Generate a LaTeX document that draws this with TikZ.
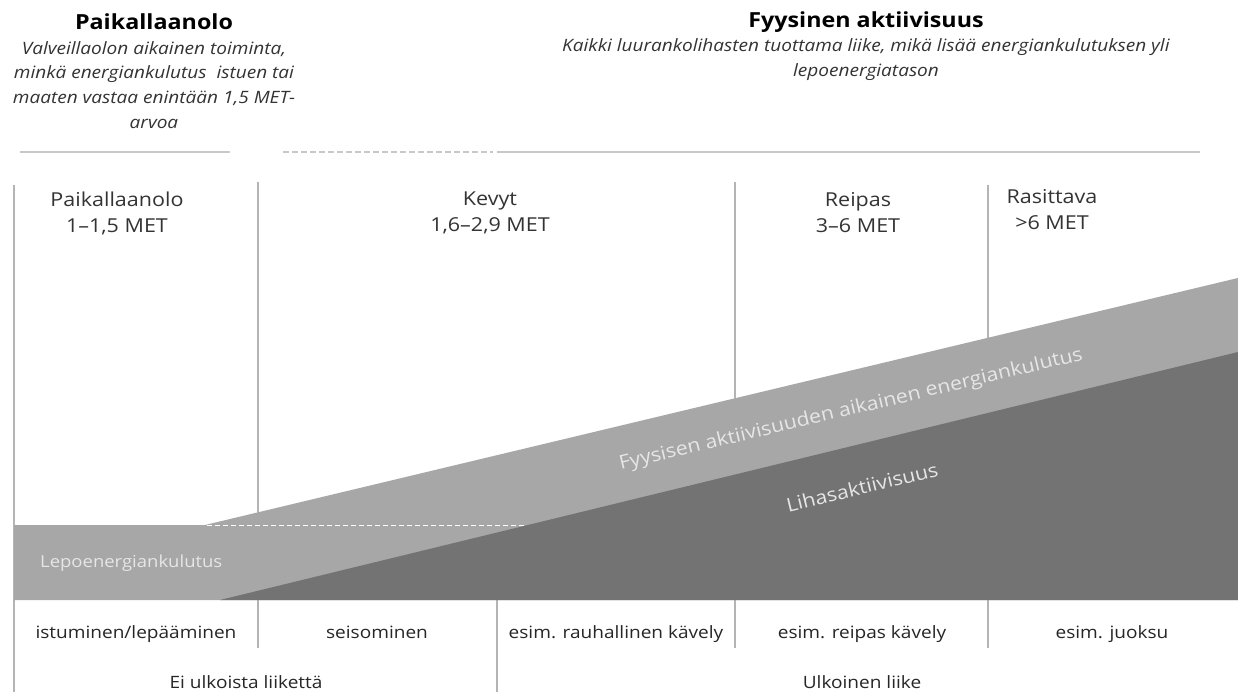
\documentclass[tikz,border=0pt]{standalone}
\usepackage{fontspec}
\setmainfont{Open Sans}[FakeStretch=1.12]
\definecolor{lightband}{HTML}{A7A7A7}
\definecolor{darkband}{HTML}{737373}
\definecolor{ruleg}{HTML}{C8C8C8}
\definecolor{divg}{HTML}{B4B4B4}
\definecolor{txtg}{HTML}{333333}
\definecolor{inband}{HTML}{E6E6E6}
\tikzset{
  head/.style={font=\fontsize{20.8}{24}\selectfont\bfseries, text=black, inner sep=0pt},
  subtxt/.style={font=\fontsize{17}{24.8}\selectfont\itshape, text=txtg, align=center, inner sep=0pt},
  colhead/.style={font=\fontsize{19.2}{26}\selectfont, text=txtg, align=center, inner sep=0pt, anchor=north},
  bottxt/.style={font=\fontsize{17}{20}\selectfont, text=black!85, inner sep=0pt, anchor=base},
  bandtxt/.style={font=\fontsize{#1}{20}\selectfont, text=inband, inner sep=0pt},
  toprule/.style={draw=ruleg, line width=2.5pt},
  divline/.style={draw=divg, line width=1.3pt},
}
\begin{document}
\begin{tikzpicture}[x=1pt,y=-1pt]
\path[use as bounding box, fill=white] (0,0) rectangle (1238,692);
% top rules
\draw[toprule] (20,152) -- (230,152);
\draw[draw=ruleg, line width=1.5pt, dash pattern=on 6pt off 3pt] (283,152) -- (493,152);
\draw[toprule] (497,152) -- (1200,152);
% headings
\node[head] (h1) at (154,22) {Paikallaanolo};
\node[subtxt] (s1) at (154,85) {Valveillaolon aikainen toiminta,\\minkä energiankulutus \ istuen tai\\maaten vastaa enintään 1,5 MET-\\arvoa};
\node[head] (h2) at (866,22) {Fyysinen aktiivisuus};
\node[subtxt] (s2) at (866,59.5) {Kaikki luurankolihasten tuottama liike, mikä lisää energiankulutuksen yli\\lepoenergiatason};
% vertical dividers
\draw[divline] (14,185) -- (14,692);
\draw[divline] (258,182) -- (258,648);
\draw[divline] (735,182) -- (735,648);
\draw[divline] (988,185) -- (988,648);
\draw[divline] (497,600) -- (497,692);
% bands
\fill[lightband] (14,525) -- (205,525) -- (1238,278) -- (1238,600) -- (14,600) -- cycle;
\fill[darkband] (220,600) -- (1238,352) -- (1238,600) -- cycle;
\draw[white, line width=1pt, dash pattern=on 5pt off 3pt] (207,525) -- (525,525);
% column headings
\node[colhead] (c1) at (117,192) {Paikallaanolo\\1–1,5 MET};
\node[colhead] (c2) at (490,192) {Kevyt\\1,6–2,9 MET};
\node[colhead] (c3) at (858,192) {Reipas\\3–6 MET};
\node[colhead] (c4) at (1052,189) {Rasittava\\>6 MET};
% band labels
\node[bandtxt=16.5, anchor=west] (b1) at (40,563) {Lepoenergiankulutus};
\node[bandtxt=19, rotate=13.4] (b2) at (851,410) {Fyysisen aktiivisuuden aikainen energiankulutus};
\node[bandtxt=19, rotate=13.6] (b3) at (862,487) {Lihasaktiivisuus};
% bottom row
\node[bottxt] (e1) at (136,638) {istuminen/lepääminen};
\node[bottxt] (e2) at (377,638) {seisominen};
\node[bottxt] (e3) at (616,638) {esim. rauhallinen kävely};
\node[bottxt] (e4) at (862,638) {esim. reipas kävely};
\node[bottxt] (e5) at (1112,638) {esim. juoksu};
\node[bottxt] (f1) at (246,688) {Ei ulkoista liikettä};
\node[bottxt] (f2) at (862,688) {Ulkoinen liike};
\end{tikzpicture}
\end{document}
